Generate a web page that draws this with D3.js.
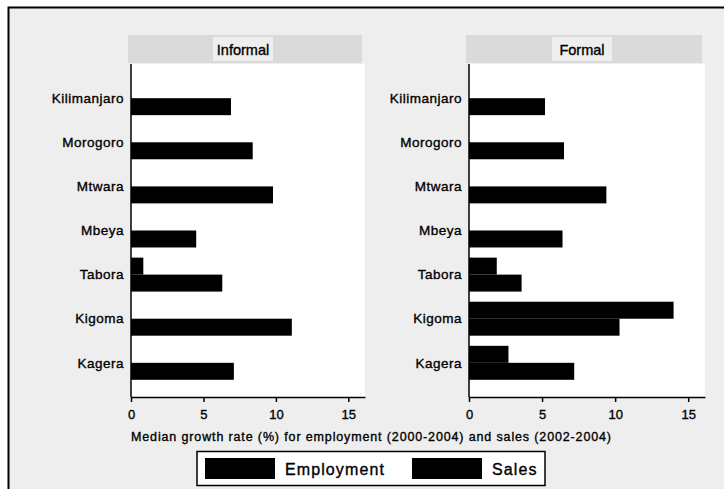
<!DOCTYPE html>
<html>
<head>
<meta charset="utf-8">
<script src="https://cdn.jsdelivr.net/npm/d3@7"></script>
<style>
    body { margin: 0; background: #ffffff; }
    svg text { font-family: "Liberation Sans", Arial, sans-serif; fill: #000; stroke: #000; stroke-width: 0.35px; }
</style>
</head>
<body>
<svg id="chart" width="724" height="489"></svg>
<script>
// values
const regions = ['Kilimanjaro', 'Morogoro', 'Mtwara', 'Mbeya', 'Tabora', 'Kigoma', 'Kagera'];
const panel_titles = ['Informal', 'Formal'];
const series_names = ['Employment', 'Sales'];
const informal_employment = [0, 0, 0, 0, 0.85, 0, 0];
const informal_sales = [6.9, 8.4, 9.8, 4.5, 6.3, 11.1, 7.1];
const formal_employment = [0, 0, 0, 0, 1.9, 14.0, 2.7];
const formal_sales = [5.2, 6.5, 9.4, 6.4, 3.6, 10.3, 7.2];
const x_ticks = [0, 5, 10, 15];
const x_max = 16.15;
const x_title = 'Median growth rate (%) for employment (2000-2004) and sales (2002-2004)';

const svg = d3.select('#chart');
const top_y = 64, bottom_y = 397;

const panels = [
    { title : panel_titles[0], left : 131, right : 365, values : [informal_employment, informal_sales] },
    { title : panel_titles[1], left : 469, right : 705, values : [formal_employment, formal_sales] },
];

// page background and frame
svg.append('rect').attr('x', 0).attr('y', 0).attr('width', 724).attr('height', 489).attr('fill', '#fff');
svg.append('rect')
    .attr('x', 8.5).attr('y', 7.5).attr('width', 730).attr('height', 500)
    .attr('fill', '#eeeeee').attr('stroke', '#000').attr('stroke-width', 2);

const y = d3.scaleBand()
    .domain(regions)
    .range([top_y, bottom_y])
    .paddingInner(0.23)
    .paddingOuter(0.39);

const y_inner = d3.scaleBand()
    .domain(series_names)
    .range([0, y.bandwidth()]);

panels.forEach(panel => {
    const x = d3.scaleLinear().domain([0, x_max]).range([panel.left, panel.right]);
    const g = svg.append('g');

    // title strip
    g.append('rect')
        .attr('x', panel.left - 3).attr('y', 35)
        .attr('width', panel.right - panel.left).attr('height', 28)
        .attr('fill', '#dadada');
    const mid = (panel.left + panel.right) / 2 - 5;
    g.append('rect')
        .attr('x', mid - 30).attr('y', 37).attr('width', 60).attr('height', 24)
        .attr('fill', '#eeeeee');
    g.append('text')
        .attr('x', mid).attr('y', 55)
        .attr('text-anchor', 'middle')
        .style('font-size', '14.5px')
        .text(panel.title);

    // plot area
    g.append('rect')
        .attr('x', panel.left).attr('y', top_y)
        .attr('width', panel.right - panel.left).attr('height', bottom_y - top_y)
        .attr('fill', '#fff');

    series_names.forEach((name, s) => {
        g.append('g').selectAll('rect')
            .data(regions)
            .join('rect')
            .attr('x', x(0))
            .attr('y', d => y(d) + y_inner(name))
            .attr('width', (d, i) => x(panel.values[s][i]) - x(0))
            .attr('height', y_inner.bandwidth())
            .attr('fill', '#000');
    });

    // category labels
    g.append('g').selectAll('text')
        .data(regions)
        .join('text')
        .attr('x', panel.left - 7)
        .attr('y', d => y(d) + y.bandwidth() / 2)
        .attr('dy', '0.35em')
        .attr('text-anchor', 'end')
        .style('font-size', '13.5px')
        .style('letter-spacing', '0.5px')
        .text(d => d);

    g.append('line')
        .attr('x1', panel.left).attr('x2', panel.left)
        .attr('y1', top_y).attr('y2', bottom_y)
        .attr('stroke', '#000').attr('stroke-width', 1.5);

    const axis = g.append('g')
        .attr('transform', 'translate(0,' + bottom_y + ')')
        .call(d3.axisBottom(x).tickValues(x_ticks).tickSize(5).tickPadding(8).tickSizeOuter(0));
    axis.select('.domain').attr('stroke-width', 1.5);
    axis.selectAll('.tick line').attr('stroke-width', 1.5);
    axis.selectAll('.tick text').style('font-size', '13px').attr('font-family', null);
});

svg.append('text')
    .attr('x', 131).attr('y', 441)
    .attr('textLength', 480).attr('lengthAdjust', 'spacing')
    .style('font-size', '12.5px')
    .text(x_title);

// legend
const legend = svg.append('g');
legend.append('rect')
    .attr('x', 197).attr('y', 451.5).attr('width', 348).attr('height', 34)
    .attr('fill', '#fff').attr('stroke', '#000').attr('stroke-width', 1.5);
const legend_x = [205, 412];
series_names.forEach((name, i) => {
    legend.append('rect')
        .attr('x', legend_x[i]).attr('y', 458)
        .attr('width', 70).attr('height', 21)
        .attr('fill', '#000');
    legend.append('text')
        .attr('x', legend_x[i] + 80).attr('y', 475)
        .style('font-size', '16px')
        .style('letter-spacing', '1.1px')
        .text(name);
});
</script>
</body>
</html>
